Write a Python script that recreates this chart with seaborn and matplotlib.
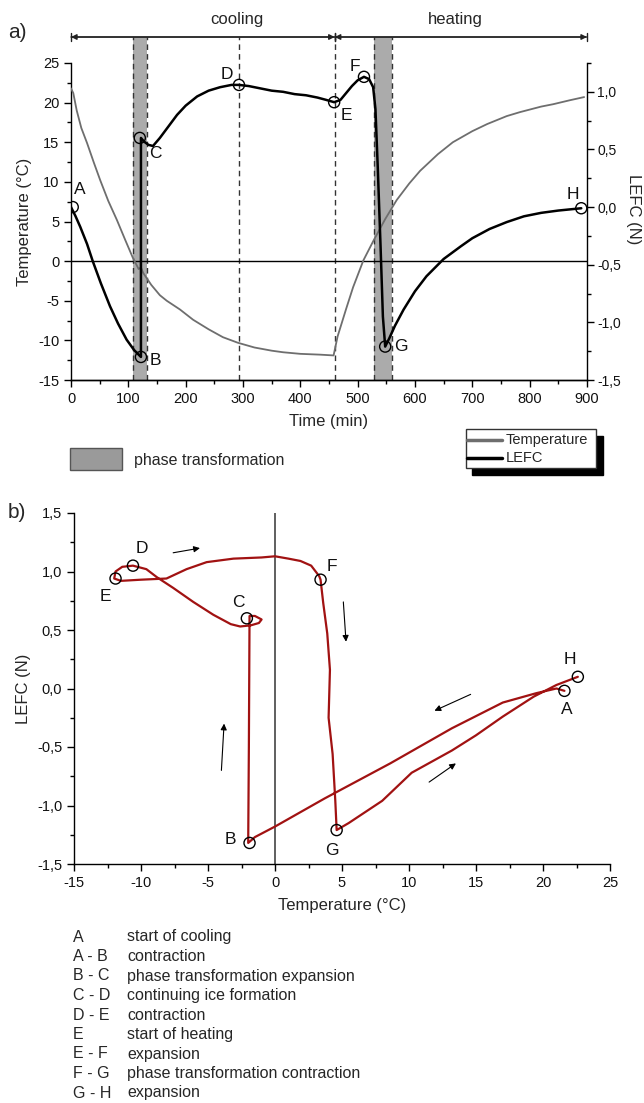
import matplotlib
matplotlib.use("Agg")
import matplotlib.pyplot as plt
import seaborn as sns
from matplotlib.ticker import MultipleLocator, FuncFormatter
from matplotlib.patches import Rectangle
from matplotlib.lines import Line2D

# ---- panel a: time series ----
temp_time = [0, 4, 10, 18, 28, 40, 51, 65, 80, 95, 108, 118, 122, 126, 140, 155, 167,
             190, 213, 240, 265, 291, 320, 350, 370, 400, 434, 458, 465, 480, 492, 510,
             527, 548, 568, 590, 609, 640, 666, 700, 726, 760, 783, 820, 841, 870, 895]
temp_val = [21.8, 21.2, 19.0, 16.8, 14.9, 12.4, 10.2, 7.6, 5.2, 2.6, 0.4, -1.0, -0.8, -1.5,
            -3.0, -4.3, -5.0, -6.1, -7.4, -8.6, -9.6, -10.3, -10.9, -11.3, -11.5, -11.7,
            -11.8, -11.9, -9.5, -6.0, -3.3, 0.1, 2.5, 5.3, 7.7, 9.8, 11.4, 13.5, 15.0, 16.4,
            17.3, 18.3, 18.8, 19.5, 19.8, 20.3, 20.7]

lefc_time = [0, 8, 16, 28, 38, 52, 68, 82, 97, 110, 122, 122, 127, 135, 143, 155, 170, 185,
             200, 220, 240, 260, 280, 293, 310, 330, 350, 370, 390, 410, 430, 445, 459, 470,
             480, 490, 500, 511, 520, 527, 531, 535, 540, 544, 548, 555, 565, 580, 600, 620,
             650, 680, 700, 730, 760, 790, 820, 850, 870, 890]
lefc_val = [0.0, -0.08, -0.17, -0.32, -0.47, -0.66, -0.86, -1.01, -1.15, -1.24, -1.30, 0.60,
            0.57, 0.54, 0.53, 0.60, 0.70, 0.80, 0.88, 0.96, 1.01, 1.04, 1.06, 1.06, 1.05,
            1.03, 1.01, 1.00, 0.98, 0.97, 0.95, 0.93, 0.91, 0.93, 0.99, 1.05, 1.10, 1.13,
            1.11, 1.04, 0.85, 0.35, -0.35, -0.95, -1.21, -1.14, -1.03, -0.89, -0.73, -0.60,
            -0.45, -0.34, -0.27, -0.19, -0.13, -0.08, -0.05, -0.03, -0.02, -0.01]

points_a_name = ['A', 'B', 'C', 'D', 'E', 'F', 'G', 'H']
points_a_time = [3, 122, 120, 293, 459, 511, 548, 890]
points_a_lefc = [0.0, -1.30, 0.60, 1.06, 0.91, 1.13, -1.21, -0.01]

phase_bands = [(108, 132), (529, 560)]
dashed_times = [108, 132, 293, 460, 529, 560]

# ---- panel b: LEFC vs temperature loop ----
loop_temp = [21.6, 21.0, 19.5, 17.0, 13.2, 8.6, 3.7, 0.0, -1.5, -2.0,
             -1.95, -1.9, -1.5, -1.0, -1.2, -1.8, -2.6, -3.3, -4.6, -6.1, -7.6, -8.8, -9.6,
             -10.6, -11.4, -11.9, -12.0, -11.5, -10.0, -8.1, -6.6, -5.1, -3.1, -1.0, 0.0,
             1.0, 1.9, 2.7, 3.3, 3.4, 3.6, 3.9, 4.1, 4.0, 4.3, 4.5, 4.6,
             5.5, 8.0, 10.2, 13.2, 15.0, 17.0, 19.3, 21.0, 22.6]
loop_lefc = [-0.02, 0.0, -0.04, -0.12, -0.34, -0.64, -0.94, -1.18, -1.27, -1.32,
             -0.50, 0.62, 0.62, 0.59, 0.56, 0.54, 0.53, 0.55, 0.63, 0.74, 0.86, 0.95, 1.02,
             1.05, 1.04, 1.00, 0.94, 0.92, 0.93, 0.94, 1.02, 1.08, 1.11, 1.12, 1.13,
             1.11, 1.09, 1.05, 0.96, 0.93, 0.73, 0.47, 0.16, -0.25, -0.56, -0.96, -1.21,
             -1.15, -0.96, -0.72, -0.53, -0.40, -0.24, -0.07, 0.03, 0.10]

points_b_name = ['A', 'B', 'C', 'D', 'E', 'F', 'G', 'H']
points_b_temp = [21.6, -1.9, -2.1, -10.6, -11.9, 3.4, 4.6, 22.6]
points_b_lefc = [-0.02, -1.32, 0.60, 1.05, 0.94, 0.93, -1.21, 0.10]

legend_codes = ['A', 'A - B', 'B - C', 'C - D', 'D - E', 'E', 'E - F', 'F - G', 'G - H']
legend_texts = ['start of cooling', 'contraction', 'phase transformation expansion',
                'continuing ice formation', 'contraction', 'start of heating', 'expansion',
                'phase transformation contraction', 'expansion']

sns.set_theme(style='ticks')
plt.rcParams['font.family'] = ['Liberation Sans', 'DejaVu Sans']
plt.rcParams['axes.unicode_minus'] = False

W, H = 644, 1103
fig = plt.figure(figsize=(W / 100, H / 100), dpi=100)


def fig_rect(x0, y0, x1, y1):
    return [x0 / W, 1 - y1 / H, (x1 - x0) / W, (y1 - y0) / H]


def comma(v, pos):
    return f'{v:.1f}'.replace('.', ',')


def style_ticks(axis, size=10.5):
    axis.tick_params(which='both', direction='out', color='black', width=1,
                     labelsize=size, labelcolor='#111')
    axis.tick_params(which='major', length=5)
    axis.tick_params(which='minor', length=3)


# ================= panel a =================
ax = fig.add_axes(fig_rect(71, 63, 587, 380))
ax2 = ax.twinx()
ax.set_xlim(0, 900)
ax.set_ylim(-15, 25)
ax2.set_ylim(-1.5, 1.25)

top = 1.082
for a, b in phase_bands:
    ax.axvspan(a, b, ymin=0, ymax=top, color='#ababab', lw=0, clip_on=False, zorder=0)
for t in dashed_times:
    ax.axvline(t, ymin=0, ymax=top, color='#333333', ls=(0, (4, 3)), lw=1,
               clip_on=False, zorder=1)
ax.axhline(0, color='black', lw=1, zorder=2)

sns.lineplot(x=temp_time, y=temp_val, ax=ax, color='#6e6e6e', lw=1.3,
             sort=False, estimator=None, zorder=3)
sns.lineplot(x=lefc_time, y=lefc_val, ax=ax2, color='black', lw=1.8,
             sort=False, estimator=None, zorder=3)
sns.scatterplot(x=points_a_time, y=points_a_lefc, ax=ax2, s=64, facecolor='none',
                edgecolor='black', linewidth=1, zorder=4)

offs_a = {'A': (7, 18), 'B': (14, -4), 'C': (16, -16), 'D': (-12, 10),
          'E': (12, -13), 'F': (-9, 10), 'G': (16, 0), 'H': (-8, 14)}
for n, t, v in zip(points_a_name, points_a_time, points_a_lefc):
    ax2.annotate(n, (t, v), xytext=offs_a[n], textcoords='offset pixels',
                 ha='center', va='center', fontsize=12.5, color='#111')

# cooling / heating arrows
trans = ax.get_xaxis_transform()
for a, b in [(0, 460), (460, 900)]:
    ax.annotate('', xy=(a, top), xytext=(b, top), xycoords=trans,
                arrowprops=dict(arrowstyle='<|-|>', color='#222', lw=1,
                                shrinkA=0, shrinkB=0, mutation_scale=8),
                annotation_clip=False)
    ax.annotate('', xy=(a, top), xytext=(b, top), xycoords=trans,
                arrowprops=dict(arrowstyle='|-|,widthA=0.35,widthB=0.35', color='#222',
                                lw=1, shrinkA=0, shrinkB=0, mutation_scale=8),
                annotation_clip=False)
ax.text(290, 1.136, 'cooling', transform=trans, ha='center', va='center', fontsize=12)
ax.text(670, 1.136, 'heating', transform=trans, ha='center', va='center', fontsize=12)

ax.xaxis.set_major_locator(MultipleLocator(100))
ax.xaxis.set_minor_locator(MultipleLocator(50))
ax.yaxis.set_major_locator(MultipleLocator(5))
ax.yaxis.set_minor_locator(MultipleLocator(2.5))
ax2.yaxis.set_major_locator(MultipleLocator(0.5))
ax2.yaxis.set_minor_locator(MultipleLocator(0.25))
ax2.yaxis.set_major_formatter(FuncFormatter(comma))
style_ticks(ax)
style_ticks(ax2, 10)
ax2.tick_params(axis='y', pad=2.5)
for axis in (ax, ax2):
    axis.spines['top'].set_visible(False)
    for s in ('left', 'right', 'bottom'):
        axis.spines[s].set_color('black')
        axis.spines[s].set_linewidth(1)
ax.spines['right'].set_visible(False)
ax2.spines['left'].set_visible(False)

ax.set_xlabel('Time (min)', fontsize=12, labelpad=6)
ax.set_ylabel('Temperature (°C)', fontsize=12, labelpad=4)
ax2.set_ylabel('LEFC (N)', fontsize=12, rotation=270, va='center')
ax2.yaxis.set_label_coords((634 - 71) / 516, 0.54)

# legend (manual, with black shadow)
def px_rect(x0, y0, x1, y1, **kw):
    fig.add_artist(Rectangle((x0 / W, 1 - y1 / H), (x1 - x0) / W, (y1 - y0) / H,
                             transform=fig.transFigure, **kw))

def px_line(x0, x1, y, **kw):
    fig.add_artist(Line2D([x0 / W, x1 / W], [1 - y / H] * 2, transform=fig.transFigure, **kw))

def px_text(x, y, s, **kw):
    fig.text(x / W, 1 - y / H, s, **kw)

px_rect(472, 436, 603, 475, facecolor='black', edgecolor='black')
px_rect(466, 429, 596, 468, facecolor='white', edgecolor='#333', lw=1)
px_line(467, 502, 440, color='#6e6e6e', lw=2.5)
px_line(467, 502, 458, color='black', lw=2.5)
px_text(506, 440, 'Temperature', va='center', fontsize=10.5)
px_text(506, 458, 'LEFC', va='center', fontsize=10.5)

px_rect(70, 448, 122, 470, facecolor='#9a9a9a', edgecolor='#555', lw=1)
px_text(134, 460, 'phase transformation', va='center', fontsize=11.5)

px_text(8, 33, 'a)', va='center', fontsize=15)
px_text(8, 513, 'b)', va='center', fontsize=15)

# ================= panel b =================
axb = fig.add_axes(fig_rect(74, 513, 610, 864))
axb.set_xlim(-15, 25)
axb.set_ylim(-1.5, 1.5)
axb.axvline(0, color='#444', lw=1.2, zorder=1)
sns.lineplot(x=loop_temp, y=loop_lefc, ax=axb, color='#a11212', lw=1.6,
             sort=False, estimator=None, zorder=3)
sns.scatterplot(x=points_b_temp, y=points_b_lefc, ax=axb, s=64, facecolor='none',
                edgecolor='black', linewidth=1, zorder=4)

offs_b = {'A': (2, -19), 'B': (-19, 3), 'C': (-8, 16), 'D': (9, 17),
          'E': (-10, -18), 'F': (11, 13), 'G': (-5, -20), 'H': (-8, 17)}
for n, t, v in zip(points_b_name, points_b_temp, points_b_lefc):
    axb.annotate(n, (t, v), xytext=offs_b[n], textcoords='offset pixels',
                 ha='center', va='center', fontsize=12.5, color='#111')

arrows_b = [((-7.6, 1.16), (-5.6, 1.20)), ((5.1, 0.74), (5.3, 0.40)),
            ((14.6, -0.05), (11.9, -0.19)), ((11.5, -0.80), (13.5, -0.64)),
            ((-4.0, -0.70), (-3.8, -0.30))]
for start, end in arrows_b:
    axb.annotate('', xy=end, xytext=start,
                 arrowprops=dict(arrowstyle='-|>', color='black', lw=0.8,
                                 shrinkA=0, shrinkB=0, mutation_scale=9))

axb.xaxis.set_major_locator(MultipleLocator(5))
axb.xaxis.set_minor_locator(MultipleLocator(2.5))
axb.yaxis.set_major_locator(MultipleLocator(0.5))
axb.yaxis.set_minor_locator(MultipleLocator(0.25))
axb.yaxis.set_major_formatter(FuncFormatter(comma))
style_ticks(axb)
sns.despine(ax=axb)
for s in ('left', 'bottom'):
    axb.spines[s].set_color('black')
    axb.spines[s].set_linewidth(1)
axb.set_xlabel('Temperature (°C)', fontsize=12, labelpad=6)
axb.set_ylabel('LEFC (N)', fontsize=12, labelpad=4)

# ================= key below =================
for i, (code, txt) in enumerate(zip(legend_codes, legend_texts)):
    y = 937 + 19.5 * i
    px_text(73, y, code, va='center', fontsize=11.5)
    px_text(127, y, txt, va='center', fontsize=11.5)

fig.savefig('out.png', dpi=100, facecolor='white')
